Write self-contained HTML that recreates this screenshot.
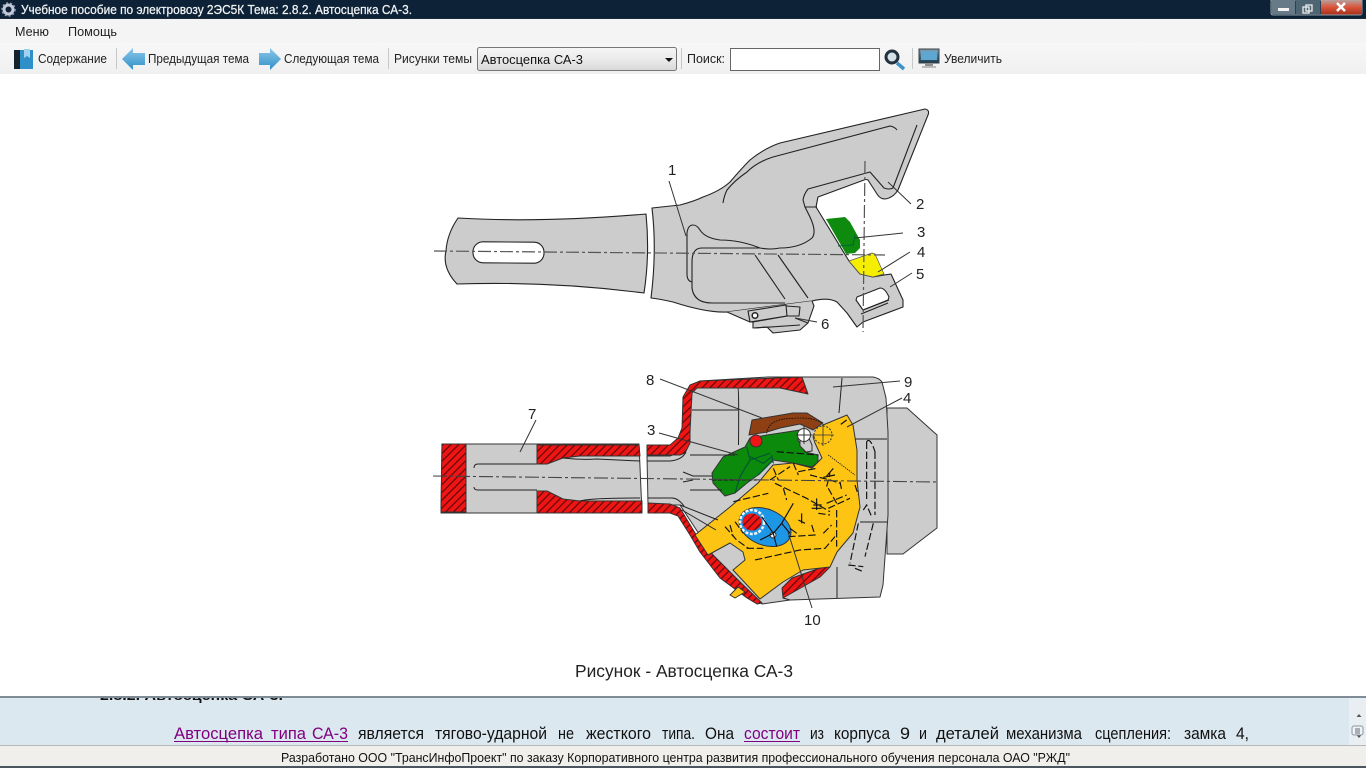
<!DOCTYPE html>
<html><head><meta charset="utf-8"><title>Автосцепка СА-3</title>
<style>html,body{margin:0;padding:0;width:1366px;height:768px;overflow:hidden;background:#fff}svg{display:block}text{font-family:"Liberation Sans",sans-serif}</style></head>
<body>
<svg width="1366" height="768" viewBox="0 0 1366 768" xmlns="http://www.w3.org/2000/svg">
<defs>
<pattern id="h" width="5.500" height="5.500" patternUnits="userSpaceOnUse" patternTransform="rotate(-45)"><rect width="5.500" height="5.500" fill="#f01515"/><rect width="5.500" height="1.300" fill="#6a0808"/></pattern>
<linearGradient id="tb" x1="0" y1="0" x2="0" y2="1"><stop offset="0" stop-color="#f7f7f7"/><stop offset="1" stop-color="#f0f0f0"/></linearGradient>
<linearGradient id="cb" x1="0" y1="0" x2="0" y2="1"><stop offset="0" stop-color="#f6f6f6"/><stop offset=".5" stop-color="#ebebeb"/><stop offset="1" stop-color="#d8d8d8"/></linearGradient>
<linearGradient id="bl" x1="0" y1="0" x2="0" y2="1"><stop offset="0" stop-color="#8cc8ea"/><stop offset="1" stop-color="#2f8fc8"/></linearGradient>
<linearGradient id="cl" x1="0" y1="0" x2="0" y2="1"><stop offset="0" stop-color="#b9a09c"/><stop offset=".5" stop-color="#d9543a"/><stop offset="1" stop-color="#a8321c"/></linearGradient>
<linearGradient id="mn" x1="0" y1="0" x2="0" y2="1"><stop offset="0" stop-color="#8f9ea8"/><stop offset=".6" stop-color="#44606f"/><stop offset="1" stop-color="#1a3a4c"/></linearGradient>
</defs>

<!-- chrome -->
<rect width="1366" height="19" fill="#0d2236"/>
<rect y="18" width="1366" height="1" fill="#1a2c3c"/>
<rect y="19" width="1366" height="24" fill="#f4f4f4"/>
<rect y="43" width="1366" height="31" fill="url(#tb)"/>
<g>
<circle cx="8.500" cy="9.500" r="4.500" fill="none" stroke="#c3c9d8" stroke-width="3"/>
<circle cx="8.500" cy="9.500" r="6.500" fill="none" stroke="#9aa3ba" stroke-width="1.500" stroke-dasharray="2 2"/>
</g>
<text x="21" y="14" font-size="13" fill="#f2f4f6" stroke="#f2f4f6" stroke-width=".25" textLength="391" lengthAdjust="spacingAndGlyphs">Учебное пособие по электровозу 2ЭС5К Тема: 2.8.2. Автосцепка СА-3.</text>
<g>
<path d="M1271,0V13q0,2 2,2H1360q2,0 2,-2V0Z" fill="#2b4152" stroke="#b4c0c8" stroke-width=".8"/>
<rect x="1272" y="0" width="23" height="14" fill="#667a88"/>
<rect x="1296" y="0" width="24" height="14" fill="#4e6574"/>
<rect x="1321" y="0" width="41" height="14.500" fill="url(#cl)"/>
<rect x="1278" y="8" width="11" height="3" fill="#f3f3f3"/>
<rect x="1306" y="5" width="6" height="6" fill="none" stroke="#eee" stroke-width="1.300"/>
<rect x="1303" y="7" width="6" height="6" fill="none" stroke="#eee" stroke-width="1.300"/>
<path d="M1337,3L1345,11M1345,3L1337,11" stroke="#fff" stroke-width="2.600"/>
</g>
<text x="15" y="36" font-size="13" fill="#222" textLength="34" lengthAdjust="spacingAndGlyphs">Меню</text>
<text x="68" y="36" font-size="13" fill="#222" textLength="49" lengthAdjust="spacingAndGlyphs">Помощь</text>

<rect x="14" y="50" width="6" height="19" fill="#15222c"/><rect x="20" y="50" width="13" height="19" fill="#2f8fc8"/><path d="M24,49h6v9l-3,-2l-3,2z" fill="#9fd2ee"/>
<text x="38" y="63" font-size="12.500" fill="#222" textLength="69" lengthAdjust="spacingAndGlyphs">Содержание</text>
<rect x="116" y="48" width="1" height="21" fill="#c8c8c8"/>
<path d="M122,59L133,48V53H145V65H133V70Z" fill="url(#bl)"/>
<text x="148" y="63" font-size="12.500" fill="#222" textLength="101" lengthAdjust="spacingAndGlyphs">Предыдущая тема</text>
<path d="M281,59L270,48V53H259V65H270V70Z" fill="url(#bl)"/>
<text x="284" y="63" font-size="12.500" fill="#222" textLength="95" lengthAdjust="spacingAndGlyphs">Следующая тема</text>
<rect x="388" y="48" width="1" height="21" fill="#c8c8c8"/>
<text x="394" y="63" font-size="12.500" fill="#222" textLength="78" lengthAdjust="spacingAndGlyphs">Рисунки темы</text>
<rect x="477.500" y="47.500" width="199" height="23" rx="2" fill="url(#cb)" stroke="#777"/>
<text x="481" y="64" font-size="13" fill="#111" textLength="102" lengthAdjust="spacingAndGlyphs">Автосцепка СА-3</text>
<path d="M665,58h8l-4,4z" fill="#111"/>
<rect x="681" y="48" width="1" height="21" fill="#c8c8c8"/>
<text x="687" y="63" font-size="12.500" fill="#222" textLength="38" lengthAdjust="spacingAndGlyphs">Поиск:</text>
<rect x="730.500" y="48.500" width="149" height="22" fill="#fff" stroke="#666"/>
<circle cx="892" cy="57" r="6" fill="#d6e2ea" stroke="#23313c" stroke-width="3"/>
<path d="M897,63L904,69" stroke="#3d93c9" stroke-width="3.500"/>
<rect x="912" y="48" width="1" height="21" fill="#c8c8c8"/>
<rect x="919" y="49" width="20" height="14" fill="url(#mn)" stroke="#33434e"/><rect x="925" y="63" width="8" height="3" fill="#8d8d8d"/><rect x="922" y="66" width="14" height="2" fill="#bbb"/>
<rect x="921" y="51" width="16" height="9" fill="#5fa7d0"/>
<text x="944" y="63" font-size="12.500" fill="#222" textLength="58" lengthAdjust="spacingAndGlyphs">Увеличить</text>

<!-- top view -->
<g stroke="#222" stroke-width="1.100" fill="none" stroke-linejoin="round">
<path d="M458,218 Q540,223 646,214 Q650,254 644,293 Q550,281 457,284 Q442,268 446,251 Q447,234 458,218Z" fill="#cccccc"/>
<rect x="473" y="242" width="71" height="21" rx="10" fill="#fff" transform="rotate(.5 508 252)"/>
<path d="M652,208 L680,205 Q695,201 703,197 Q720,191 730,182 Q742,168 750,160 Q765,148 780,143 L925,109 Q930,110 928,115 L898,190 Q893,198 885,199 Q880,199 877,194 L868,180 Q866,179 864,180 L818,197 L816,207 L849,261 L860,274 L873,277 L884,275 L891,274 L903,300 L903,307 L863,322 L857,327 L847,313 L837,302 Q828,297 812,301 L727,312 Q707,313 673,302 Q660,299 651,298 Q657,250 652,208Z" fill="#cccccc"/>
<path d="M857,297L880,288Q885,288 889,297L888,300L863,310L856,300Z" fill="#fff"/>
<path d="M863,310L889,300M861,314L888,303"/>
<path d="M692,282 Q687,281 687,274 V233 Q688,225 693,225 Q697,225 700,230 Q705,238 720,240 Q740,240 760,248 Q770,250 780,248 Q800,248 812,238 Q817,232 810,217 L805,207 H817"/>
<path d="M692,262 Q692,248 702,248 H760 M692,262 L692,288 Q694,303 712,303 L785,303"/>
<path d="M755,255L785,299M778,255L808,298"/>
<path d="M723,203Q724,196 727,190Q735,180 747,172Q757,162 773,157L890,126Q895,127 897,130"/>
<path d="M917,125L893,188Q889,190 884,188L870,172L808,189Q804,194 803,200L805,207"/>
<path d="M727,312L750,322L753,322V328L767,327L773,333L800,330L808,323L814,306L812,301" fill="#cccccc"/>
<path d="M748,311L786,305L787,316L750,322Z" fill="#cccccc"/>
<path d="M786,306L800,307L799,316L787,316M753,322L787,316M755,328L800,325M795,318L808,323"/>
<circle cx="755" cy="315.500" r="2.800" fill="#fff" stroke-width="1.500"/>
<path d="M826,219L845,217L850,222L860,240V248L855,253L846,254Z" fill="#0e8a0e" stroke="none"/>
<path d="M838,246L853,245L855,235" stroke="#063"/>
<path d="M849,261L872,253L875,254L884,274L873,277L860,274Z" fill="#f5ee00" stroke="#555" stroke-width=".7"/>
</g>
<g stroke="#555" stroke-width="1.200" fill="none" stroke-dasharray="13 3 3 3">
<path d="M434,251L885,255"/><path d="M865,161L863,332"/>
</g>
<g stroke="#333" stroke-width="1" fill="none">
<path d="M669,181L686,236M888,182L911,204M855,238L903,233M878,272L910,252M890,287L912,273M795,318L817,322"/>
</g>

<!-- bottom view -->
<g stroke="#333" stroke-width="1" stroke-linejoin="round">
<path d="M887,408H907L937,435V528L903,554H887Z" fill="#cccccc"/>
<path d="M768,377H873Q879,378 882,382L886,398L888,432V515L883,585L880,597L790,600L762,604L713,555L680,505H648L647,456H670L684,450L690,390L700,381Z" fill="#cccccc"/>
<path d="M442,444H639L642,513H441Z" fill="#cccccc"/>
<path d="M442,444H466V512H441Z" fill="url(#h)"/>
<path d="M537,445H639L640,456H580L563,458L547,464H537Z" fill="url(#h)"/>
<path d="M537,491H547L563,499L580,501H642V513H537Z" fill="url(#h)"/>
<path d="M647,445H670L678,438L682,428L683,397L690,385L700,381L802,377L808,394L780,388H697L692,393L690,432V443L685,453L680,455H647Z" fill="url(#h)"/>
<path d="M648,503L670,504L680,508L695,533L713,555L740,582L762,603L757,604L747,598L720,578L700,552L690,535L678,516L670,513H648Z" fill="url(#h)"/>
<path d="M782,588L792,578L823,567H830L820,577L783,598Z" fill="url(#h)"/>
<path d="M813,437L823,425L847,415L853,425L857,450V480L860,507L853,533L837,552L830,567L803,570L783,582L760,599L733,570L745,560L743,552L730,543L708,555L695,535L730,507L758,483L773,465L793,463L812,468L822,458L815,443Z" fill="#fdc414"/>
<path d="M730,595L738,587L745,592L735,598Z" fill="#fdc414"/>
<path d="M712,473L723,457L745,447L750,438L767,435L800,430L798,440L805,452L818,455V462L812,467L793,463L773,460L758,475L747,483L735,493L725,496L713,483Z" fill="#0c8a0c"/>
<path d="M749,435L752,420L793,413H807L823,423L813,430L800,424L780,428L767,432Z" fill="#8e3f14"/>
<circle cx="756" cy="441" r="6" fill="#f01515"/>
<path d="M800,440L808,436L812,445V451L806,452L800,446Z" fill="#ccc"/>
<circle cx="804" cy="435" r="6.500" fill="#fff"/>
<path d="M804,426V444M796,435H812" stroke-width="1"/>
<circle cx="823" cy="435" r="9" fill="#fdc414" stroke-dasharray="2 1.500"/>
<path d="M823,424V446M812,435H834" stroke-width=".8"/>
<ellipse cx="765" cy="527" rx="27" ry="18" transform="rotate(22 765 527)" fill="#1e96e6"/>
<circle cx="752" cy="522" r="12" fill="none" stroke="#f4f4f4" stroke-width="2.500" stroke-dasharray="3 1.500"/>
<ellipse cx="752" cy="522" rx="9.500" ry="8.500" fill="url(#h)" stroke="none"/>
<circle cx="773" cy="535" r="3" fill="#fff"/>
</g>
<g stroke="#222" stroke-width="1" fill="none">
<path d="M478,464H537M478,464Q474,464 474,468M478,490H537M478,490Q474,490 474,487"/>
<path d="M563,458Q580,460 597,459L640,461M580,501Q590,498 640,498"/>
<path d="M647,461H670Q682,460 686,452M648,498H672Q678,498 684,506"/>
<path d="M683,472L693,476H712M683,482L693,480M690,490H722M680,505L718,520M682,510L716,530"/>
<path d="M738,388Q739,388 738.500,445M692,410H738M690,455H735"/>
<path d="M842,378L839,413M887,439H855M887,522H860M837,567V598M790,600L783,598"/>
</g>
<!-- detail lines traced in 3x crop coordinates -->
<g transform="translate(690,400) scale(.3333)" stroke="#111" stroke-width="3.500" fill="none">
<path d="M275,370L310,310M250,400L275,370L300,400M215,350L250,400L260,440M250,400L210,420M300,385L320,400M335,340V370M325,360L345,370"/>
<path d="M170,140L180,180L150,230L135,280M180,180L240,160M245,165L250,190M180,170L220,190L245,170M205,225L250,180" stroke="#053"/>
<path d="M65,240H200" stroke="#222" stroke-dasharray="14 4"/>
<path d="M230,100Q235,55 310,55Q370,50 395,70" stroke-width="2.500" stroke-dasharray="5 3"/>
<path d="M415,165L495,225" stroke-width="2.500" stroke-dasharray="4 3"/>
<path d="M370,315H395M380,295V330M365,325H395"/>
<path d="M410,228L430,205M400,232L435,225"/>
<g stroke-dasharray="22 8">
<path d="M130,305L235,280M240,240L300,200M250,205L265,240M310,190L325,225M325,215L380,205M255,250L350,295L420,335M280,265L290,300M360,225L420,240L450,250"/>
<path d="M410,260L420,220M415,265L440,310M440,330V440M385,340L420,345M410,310L470,285M415,325L480,295M450,245L455,270M495,255L505,285"/>
<path d="M365,375L375,405L295,410M400,400L425,375M170,445H220M195,480L330,450L405,445L435,410"/>
<path d="M105,380L140,420L175,445M120,375L130,410M135,365L160,400M260,155L385,165"/>
<path d="M530,125V300M555,155V345M530,125Q540,110 555,155M520,330L530,315L545,350M550,370L525,470M505,370L480,490M475,495L520,500M495,505L520,515M470,60L450,75"/>
</g>
</g>
<g stroke="#333" stroke-width="1" fill="none">
<path d="M536,420L520,452M660,379L762,418M659,433L738,455M900,381L833,387M902,398L847,427M788,532L812,608"/>
</g>
<path d="M433,476L938,482" stroke="#444" stroke-width="1.100" fill="none" stroke-dasharray="14 3 3 3"/>

<g font-size="15" fill="#222">
<text x="668" y="175">1</text><text x="916" y="209">2</text><text x="917" y="237">3</text><text x="917" y="257">4</text><text x="916" y="279">5</text><text x="821" y="329">6</text>
<text x="528" y="419">7</text><text x="646" y="385">8</text><text x="647" y="435">3</text><text x="904" y="387">9</text><text x="903" y="403">4</text><text x="804" y="625">10</text>
</g>
<text x="575" y="677" font-size="17.500" fill="#222" textLength="218" lengthAdjust="spacingAndGlyphs">Рисунок - Автосцепка СА-3</text>

<!-- bottom panel -->
<rect y="697" width="1366" height="49" fill="#dce8ef"/>
<rect y="696" width="1366" height="2" fill="#7f8c96"/>
<svg x="0" y="698" width="1366" height="48"><text x="100" y="2" font-size="14" font-weight="bold" fill="#111" textLength="183" lengthAdjust="spacingAndGlyphs">2.8.2. Автосцепка СА-3.</text></svg>
<g font-size="16.500" fill="#111">
<g fill="#800080">
<text x="174" y="739" textLength="89" lengthAdjust="spacingAndGlyphs">Автосцепка</text><text x="271" y="739" textLength="35" lengthAdjust="spacingAndGlyphs">типа</text><text x="312" y="739" textLength="36" lengthAdjust="spacingAndGlyphs">СА-3</text>
<text x="744" y="739" textLength="56" lengthAdjust="spacingAndGlyphs">состоит</text>
</g>
<rect x="174" y="741" width="174" height="1" fill="#800080"/><rect x="744" y="741" width="56" height="1" fill="#800080"/>
<text x="358" y="739" textLength="66" lengthAdjust="spacingAndGlyphs">является</text>
<text x="435" y="739" textLength="112" lengthAdjust="spacingAndGlyphs">тягово-ударной</text>
<text x="558" y="739" textLength="16" lengthAdjust="spacingAndGlyphs">не</text>
<text x="586" y="739" textLength="65" lengthAdjust="spacingAndGlyphs">жесткого</text>
<text x="662" y="739" textLength="33" lengthAdjust="spacingAndGlyphs">типа.</text>
<text x="705" y="739" textLength="29" lengthAdjust="spacingAndGlyphs">Она</text>
<text x="810" y="739" textLength="14" lengthAdjust="spacingAndGlyphs">из</text>
<text x="834" y="739" textLength="56" lengthAdjust="spacingAndGlyphs">корпуса</text>
<text x="900" y="739" textLength="10" lengthAdjust="spacingAndGlyphs">9</text>
<text x="919" y="739" textLength="8" lengthAdjust="spacingAndGlyphs">и</text>
<text x="936" y="739" textLength="63" lengthAdjust="spacingAndGlyphs">деталей</text>
<text x="1006" y="739" textLength="76" lengthAdjust="spacingAndGlyphs">механизма</text>
<text x="1095" y="739" textLength="76" lengthAdjust="spacingAndGlyphs">сцепления:</text>
<text x="1184" y="739" textLength="42" lengthAdjust="spacingAndGlyphs">замка</text>
<text x="1236" y="739" textLength="13" lengthAdjust="spacingAndGlyphs">4,</text>
</g>
<rect x="1349" y="698" width="17" height="48" fill="#e8eef2"/>
<path d="M1359,714l2.500,3h-5zM1359,738l2.500,-3h-5z" fill="#555"/>
<rect x="1352" y="726" width="11" height="9" rx="2" fill="#eef3f6" stroke="#8a98a2"/><path d="M1355,729h5M1355,731h5M1355,733h5" stroke="#667"/>
<rect y="746" width="1366" height="20" fill="#f1efec"/>
<rect y="745" width="1366" height="1" fill="#b8b8b8"/>
<rect y="766" width="1366" height="2" fill="#4a5560"/>
<text x="281" y="762" font-size="12.500" fill="#111" textLength="789" lengthAdjust="spacingAndGlyphs">Разработано ООО "ТрансИнфоПроект" по заказу Корпоративного центра развития профессионального обучения персонала ОАО "РЖД"</text>
</svg>
</body></html>
